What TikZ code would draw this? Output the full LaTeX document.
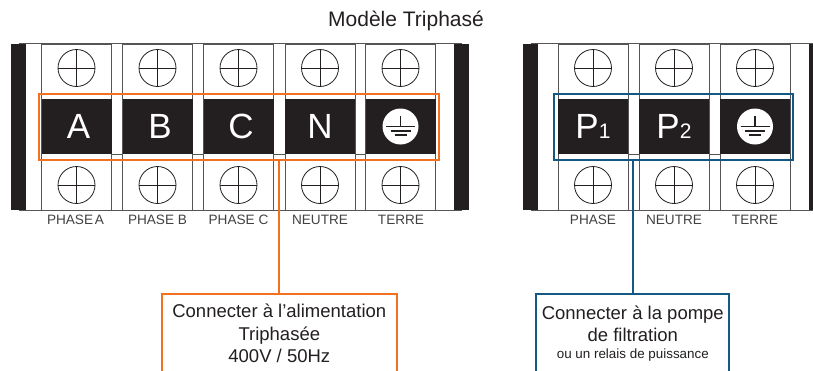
\documentclass[tikz,border=0pt]{standalone}
\usepackage{fontspec}
\setmainfont{Liberation Sans}
\usetikzlibrary{positioning,calc}
\definecolor{ink}{RGB}{35,31,32}
\definecolor{wire}{RGB}{85,85,85}
\definecolor{label}{RGB}{65,65,65}
\definecolor{feed}{RGB}{243,112,33}
\definecolor{pump}{RGB}{20,88,132}
\tikzset{
    plate/.style={draw=wire,line width=1pt,minimum width=70pt,minimum height=166pt,inner sep=0pt},
    rail/.style={fill=ink,minimum width=15pt,minimum height=166pt,inner sep=0pt},
    tag/.style={fill=ink,text=white,minimum width=70pt,minimum height=55pt,inner sep=0pt,font=\fontsize{35}{35}\selectfont},
    screw/.style={circle,draw=ink,line width=0.8pt,minimum size=37pt,inner sep=0pt,
        path picture={\draw[ink,line width=0.8pt] (path picture bounding box.north) -- (path picture bounding box.south)
            (path picture bounding box.west) -- (path picture bounding box.east);}},
    earth/.style={circle,fill=white,minimum size=36pt,inner sep=0pt,
        path picture={\begin{scope}[shift={(path picture bounding box.center)},ink,line width=1.2pt]
            \draw (0,-11) -- (0,0);
            \draw (-14.5,0) -- (14.5,0);
            \draw (-10,4.5) -- (10,4.5);
            \draw (-6,8.5) -- (6,8.5);
        \end{scope}}},
    caption/.style={text=label,font=\fontsize{13.6}{13.6}\selectfont},
    frame/.style={draw=#1,line width=2pt,inner sep=0pt},
    drop/.style={draw=#1,line width=2pt,fill=white,anchor=north,align=center,minimum height=79pt,inner sep=0pt,
        text=ink,font=\fontsize{18.5}{22.4}\selectfont}
}
\begin{document}
\begin{tikzpicture}[x=1pt,y=-1pt]
    \useasboundingbox (0,0) rectangle (813,370);
    \clip (0,0) rectangle (813,370);

    % Title
    \node[text=ink,font=\fontsize{21}{21}\selectfont] (title) at (406,21) {Modèle Triphasé};

    % Three-phase block: rails
    \node[rail] (railL) at (18.5,127) {};
    \node[rail] (railR) at (461.5,127) {};
    \draw[wire,line width=1pt] (railL.north) -- (railR.north);
    \draw[wire,line width=1pt] (railL.south) -- (railR.south);

    % Three-phase block: terminals
    \node[plate] (plateA) at (76.5,127) {};
    \node[plate] (plateB) at (157.5,127) {};
    \node[plate] (plateC) at (238.5,127) {};
    \node[plate] (plateN) at (320,127) {};
    \node[plate] (plateT) at (400.5,127) {};

    % Three-phase block: screws
    \node[screw] (screwAt) at (76.5,68) {};
    \node[screw] (screwBt) at (157.5,68) {};
    \node[screw] (screwCt) at (238.5,68) {};
    \node[screw] (screwNt) at (320,68) {};
    \node[screw] (screwTt) at (400.5,68) {};
    \node[screw] (screwAb) at (76.5,185) {};
    \node[screw] (screwBb) at (157.5,185) {};
    \node[screw] (screwCb) at (238.5,185) {};
    \node[screw] (screwNb) at (320,185) {};
    \node[screw] (screwTb) at (400.5,185) {};

    % Three-phase block: black tags
    \node[tag] (tagA) at (76.5,126.5) {\hspace*{4pt}A};
    \node[tag] (tagB) at (157.5,126.5) {\hspace*{5pt}B};
    \node[tag] (tagC) at (238.5,126.5) {\hspace*{5pt}C};
    \node[tag] (tagN) at (320,126.5) {N};
    \node[tag] (tagT) at (400.5,126.5) {};
    \node[earth] (earthT) at (tagT) {};
    \draw[wire,line width=1pt] (tagA.south east) -- (tagB.south west);
    \draw[wire,line width=1pt] (tagB.south east) -- (tagC.south west);
    \draw[wire,line width=1pt] (tagC.south east) -- (tagN.south west);
    \draw[wire,line width=1pt] (tagN.south east) -- (tagT.south west);

    % Three-phase block: captions
    \node[caption] (capA) at (75.5,220) {PHASE\hspace{-2pt} A};
    \node[caption] (capB) at (157.5,220) {PHASE B};
    \node[caption] (capC) at (238.5,220) {PHASE C};
    \node[caption] (capN) at (320,220) {NEUTRE};
    \node[caption] (capT) at (401,220) {TERRE};

    % Pump block: rails
    \node[rail] (railP) at (530.5,127) {};
    \node[rail] (railQ) at (816.5,127) {};
    \draw[wire,line width=1pt] (railP.north) -- (railQ.north);
    \draw[wire,line width=1pt] (railP.south) -- (railQ.south);

    % Pump block: terminals
    \node[plate] (plateP) at (593,127) {};
    \node[plate] (plateS) at (674,127) {};
    \node[plate] (plateE) at (755,127) {};

    % Pump block: screws
    \node[screw] (screwPt) at (593,68) {};
    \node[screw] (screwSt) at (674,68) {};
    \node[screw] (screwEt) at (755,68) {};
    \node[screw] (screwPb) at (593,185) {};
    \node[screw] (screwSb) at (674,185) {};
    \node[screw] (screwEb) at (755,185) {};

    % Pump block: black tags
    \node[tag] (tagP) at (593,126.5) {P{\fontsize{21}{21}\selectfont 1}};
    \node[tag] (tagS) at (674,126.5) {P{\fontsize{21}{21}\selectfont 2}};
    \node[tag] (tagE) at (755,126.5) {};
    \node[earth] (earthE) at (tagE) {};
    \draw[wire,line width=1pt] (tagP.south east) -- (tagS.south west);
    \draw[wire,line width=1pt] (tagS.south east) -- (tagE.south west);

    % Pump block: captions
    \node[caption] (capP) at (593,220) {PHASE};
    \node[caption] (capS) at (674,220) {NEUTRE};
    \node[caption] (capE) at (755,220) {TERRE};

    % Coloured frames
    \node[frame=feed,minimum width=400pt,minimum height=65.5pt] (frameFeed) at (238.5,126.8) {};
    \node[frame=pump,minimum width=239.5pt,minimum height=65.5pt] (framePump) at (673.5,126.8) {};

    % Boxes cut by the lower edge
    \node[drop=feed,minimum width=235pt] (boxFeed) at (279.3,293) {Connecter à l’alimentation\\Triphasée\\400V / 50Hz};
    \node[drop=pump,minimum width=193pt] (boxPump) at (632.8,293) {Connecter à la pompe\\de filtration\\[-5pt]{\fontsize{13.4}{13.4}\selectfont ou un relais de puissance}};

    % Connectors
    \draw[feed,line width=2pt] (boxFeed.north |- frameFeed.south) -- (boxFeed.north);
    \draw[pump,line width=2pt] (boxPump.north |- framePump.south) -- (boxPump.north);
\end{tikzpicture}
\end{document}
